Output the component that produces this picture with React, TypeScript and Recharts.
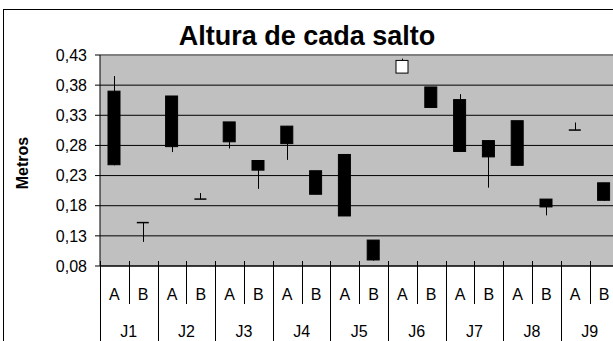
import { ComposedChart, Bar, XAxis, YAxis, CartesianGrid, ReferenceLine } from "recharts";

const groups = ["J1", "J2", "J3", "J4", "J5", "J6", "J7", "J8", "J9"];
const subs = ["A", "B"];

// one value per A/B category, in order J1A, J1B, J2A, ...
const openVals = [0.37, 0.152, 0.362, 0.191, 0.319, 0.255, 0.312, 0.238, 0.265, 0.123, 0.4, 0.377, 0.356, 0.288, 0.321, 0.191, 0.3055, 0.218];
const highVals = [0.395, 0.152, 0.362, 0.201, 0.319, 0.255, 0.312, 0.238, 0.265, 0.123, 0.424, 0.377, 0.365, 0.288, 0.321, 0.191, 0.318, 0.218];
const lowVals = [0.247, 0.12, 0.269, 0.191, 0.275, 0.208, 0.256, 0.199, 0.163, 0.089, 0.4, 0.343, 0.269, 0.21, 0.246, 0.164, 0.3055, 0.188];
const closeVals = [0.248, 0.152, 0.278, 0.191, 0.286, 0.239, 0.283, 0.199, 0.163, 0.09, 0.421, 0.343, 0.27, 0.261, 0.247, 0.178, 0.3055, 0.189];

const yTicks = [0.08, 0.13, 0.18, 0.23, 0.28, 0.33, 0.38, 0.43];

const data = groups.flatMap((g, gi) =>
  subs.map((s, si) => {
    const i = gi * subs.length + si;
    return { grp: g, sub: s, open: openVals[i], high: highVals[i], low: lowVals[i], close: closeVals[i] };
  })
);

const CHART_W = 640;
const CHART_H = 341;
const MARGIN = { top: 55, right: 21.6, bottom: 0, left: 0 };
const Y_W = 100;
const SUB_H = 38;
const PLOT_LEFT = MARGIN.left + Y_W;
const PLOT_BOTTOM = CHART_H - MARGIN.bottom - SUB_H - 37;
const BAND = (CHART_W - MARGIN.left - MARGIN.right - Y_W) / data.length;
const FONT = "'Liberation Sans', Arial, sans-serif";

const tickIndex = (x: number) => Math.round((x - PLOT_LEFT) / BAND - 0.5);
const isGroupStart = (x: number) => {
  const d = data[tickIndex(x)];
  return d ? d.sub === subs[0] : false;
};

const Candle = (props: any) => {
  const { x, y, width, height, payload } = props;
  const top = Math.min(y, y + height);
  const h = Math.abs(height);
  const span = payload.high - payload.low;
  const k = span > 0 ? h / span : 0;
  const py = (v: number) => top + (payload.high - v) * k;
  const cx = Math.round(x + width / 2) + 0.5;
  const yO = py(payload.open);
  const yC = py(payload.close);
  const bodyTop = Math.min(yO, yC);
  const bodyH = Math.abs(yO - yC);
  const up = payload.close > payload.open;
  return (
    <g>
      <line x1={cx} x2={cx} y1={top} y2={top + h} stroke="#000" strokeWidth={1} />
      {bodyH < 1.5 ? (
        <line x1={x} x2={x + width} y1={yO} y2={yO} stroke="#000" strokeWidth={1.5} />
      ) : (
        <rect x={x} y={bodyTop} width={width} height={bodyH} fill={up ? "#fff" : "#000"} stroke="#000" strokeWidth={1} />
      )}
    </g>
  );
};

// A/B labels with the separator on the left of each category
const SubTick = (props: any) => {
  const { x, y, payload } = props;
  const left = Math.round(x - BAND / 2) + 0.5;
  return (
    <g>
      <path d={`M${left},${y - 5}L${left},${y + SUB_H}`} stroke="#000" strokeWidth={1} fill="none" />
      <text x={x} y={y + 28} dy="0.355em" textAnchor="middle" fontSize={16} fontFamily={FONT} fill="#000">
        {payload.value}
      </text>
    </g>
  );
};

// group labels J1..J9 centred on each pair
const GroupTick = (props: any) => {
  const { x, y, payload } = props;
  if (!isGroupStart(x)) return <g />;
  return (
    <text x={x + BAND / 2} y={y + 27} dy="0.355em" textAnchor="middle" fontSize={16} fontFamily={FONT} fill="#000">
      {payload.value}
    </text>
  );
};

export default function App() {
  return (
    <div style={{ position: "absolute", left: 0, top: 0, width: 613, height: 341, overflow: "hidden", background: "#fff" }}>
      <ComposedChart width={CHART_W} height={CHART_H} data={data} margin={MARGIN}>
        <CartesianGrid xAxisId={0} vertical={false} stroke="#000" fill="#C0C0C0" fillOpacity={1} />
        <XAxis
          xAxisId={0}
          dataKey="sub"
          interval={0}
          height={SUB_H}
          tickSize={0}
          tickMargin={0}
          tickLine={false}
          axisLine={{ stroke: "#000" }}
          tick={SubTick}
        />
        <XAxis
          xAxisId={1}
          dataKey="grp"
          interval={0}
          height={37}
          tickSize={0}
          tickMargin={0}
          tickLine={false}
          axisLine={false}
          tick={GroupTick}
        />
        <YAxis
          type="number"
          domain={[0.08, 0.43]}
          ticks={yTicks}
          width={Y_W}
          tickSize={5}
          tickMargin={8}
          axisLine={{ stroke: "#000" }}
          tickLine={{ stroke: "#000" }}
          tick={{ fontSize: 16, fontFamily: FONT, fill: "#000" }}
          tickFormatter={(v: number) => v.toFixed(2).replace(".", ",")}
        />
        <ReferenceLine xAxisId={0} y={0.43} stroke="#808080" strokeWidth={2} />
        <Bar
          xAxisId={0}
          dataKey={(d: any) => [d.low, d.high]}
          barSize={12}
          shape={Candle}
          isAnimationActive={false}
        />
      </ComposedChart>
      <svg width={613} height={341} style={{ position: "absolute", left: 0, top: 0, pointerEvents: "none" }}>
        <rect x={3.5} y={9.5} width={700} height={400} fill="none" stroke="#000" strokeWidth={1} />
        {groups.map((g, gi) => {
          const gx = Math.round(PLOT_LEFT + gi * subs.length * BAND) + 0.5;
          return <line key={g} x1={gx} x2={gx} y1={PLOT_BOTTOM + SUB_H - 2} y2={CHART_H} stroke="#000" strokeWidth={1} />;
        })}
        <text x={307} y={45} textAnchor="middle" fontSize={27} fontWeight="bold" fontFamily={FONT} fill="#000">
          Altura de cada salto
        </text>
        <text
          x={28}
          y={163}
          transform="rotate(-90 28 163)"
          textAnchor="middle"
          fontSize={16}
          fontWeight="bold"
          fontFamily={FONT}
          fill="#000"
        >
          Metros
        </text>
      </svg>
    </div>
  );
}
